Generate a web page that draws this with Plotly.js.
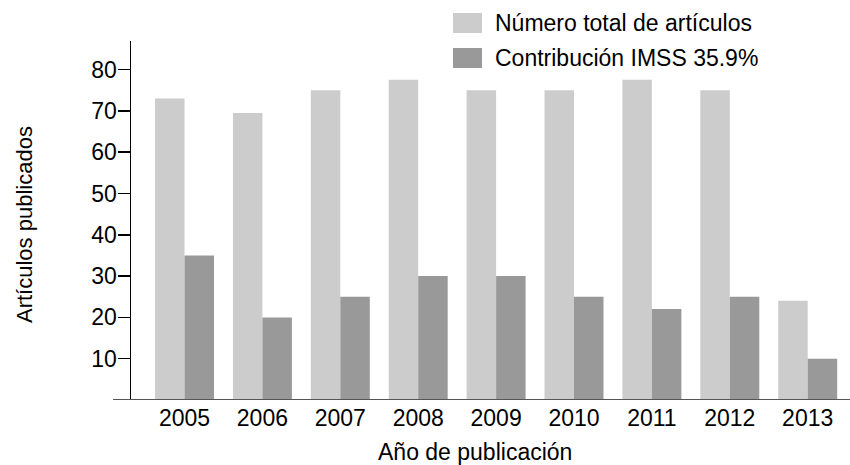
<!DOCTYPE html>
<html>
<head>
<meta charset="utf-8">
<script src="https://cdn.plot.ly/plotly-3.0.1.min.js"></script>
<style>html,body{margin:0;padding:0;background:#fff;}#chart{width:850px;height:465px;}</style>
</head>
<body>
<div id="chart"></div>
<script>
const years = ['2005','2006','2007','2008','2009','2010','2011','2012','2013'];
const totalArticles = [73, 69.5, 75, 77.5, 75, 75, 77.5, 75, 24];
const imssContribution = [35, 20, 25, 30, 30, 25, 22, 25, 10];
const seriesNames = ['Número total de artículos', 'Contribución IMSS 35.9%'];
const seriesColors = ['#cccccc', '#999999'];
const yTicks = [10, 20, 30, 40, 50, 60, 70, 80];
const xTitle = 'Año de publicación';
const yTitle = 'Artículos publicados';

const FONT = 'Liberation Sans, Arial, Helvetica, sans-serif';
const FS = 23;

const traces = [
  {type: 'bar', x: years, y: totalArticles, name: seriesNames[0], marker: {color: seriesColors[0]}, hoverinfo: 'x+y'},
  {type: 'bar', x: years, y: imssContribution, name: seriesNames[1], marker: {color: seriesColors[1]}, hoverinfo: 'x+y'}
];

// manual legend
const legendShapes = [];
const legendAnn = [];
const swY = [[1.0223, 1.078], [0.9248, 0.9805]];
const txtY = [1.050, 0.9526];
for (let i = 0; i < seriesNames.length; i++) {
  legendShapes.push({type: 'rect', xref: 'paper', yref: 'paper', x0: 0.4478, x1: 0.4882, y0: swY[i][0], y1: swY[i][1], fillcolor: seriesColors[i], line: {width: 0}});
  legendAnn.push({xref: 'paper', yref: 'paper', x: 0.5035, y: txtY[i], xanchor: 'left', yanchor: 'middle', text: seriesNames[i], showarrow: false, font: {family: FONT, size: FS, color: '#000'}});
}

const layout = {
  width: 850, height: 465,
  margin: {l: 131, r: 0, t: 41, b: 65, pad: 0},
  paper_bgcolor: '#fff', plot_bgcolor: '#fff',
  font: {family: FONT, size: FS, color: '#000'},
  barmode: 'group', bargap: 0.243, bargroupgap: 0,
  showlegend: false,
  xaxis: {
    type: 'category', range: [-0.687, 8.543],
    showline: false, showgrid: false, zeroline: false,
    ticks: '', ticklabelstandoff: 2,
    tickfont: {family: FONT, size: FS, color: '#000'}
  },
  yaxis: {
    range: [0, 86.9], tickvals: yTicks,
    showline: true, linecolor: '#000', linewidth: 1.5,
    showgrid: false, zeroline: false,
    ticks: 'outside', ticklen: 12, tickwidth: 1.5, tickcolor: '#000',
    ticklabelstandoff: -4,
    tickfont: {family: FONT, size: FS, color: '#000'}
  },
  shapes: [
    {type: 'line', xref: 'paper', yref: 'y', x0: -0.025, x1: 1, y0: 0, y1: 0, line: {color: '#555', width: 2}}
  ].concat(legendShapes),
  annotations: [
    {xref: 'paper', yref: 'paper', x: 0.4784, y: -0.1448, xanchor: 'center', yanchor: 'middle', text: xTitle, showarrow: false, font: {family: FONT, size: FS, color: '#000'}},
    {xref: 'paper', yref: 'paper', x: -0.1474, y: 0.4875, xanchor: 'center', yanchor: 'middle', textangle: -90, text: yTitle, showarrow: false, font: {family: FONT, size: 22, color: '#000'}}
  ].concat(legendAnn)
};

Plotly.newPlot('chart', traces, layout, {displayModeBar: false, staticPlot: true});
</script>
</body>
</html>
